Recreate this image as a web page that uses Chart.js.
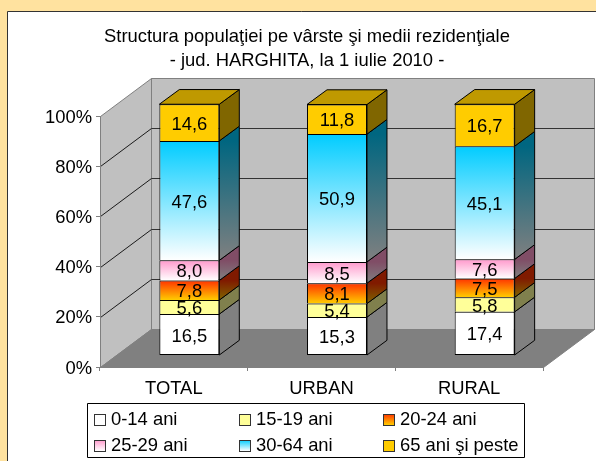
<!DOCTYPE html>
<html><head><meta charset="utf-8">
<style>html,body{margin:0;padding:0;background:#fff}#w{width:596px;height:461px;position:relative}</style>
<script src="https://cdn.jsdelivr.net/npm/chart.js@4"></script>
</head><body><div id="w"><canvas id="c" width="596" height="461"></canvas></div>
<script>
const categories = ["TOTAL", "URBAN", "RURAL"];
const seriesNames = ["0-14 ani", "15-19 ani", "20-24 ani", "25-29 ani", "30-64 ani", "65 ani şi peste"];
const age0to14 = [16.5, 15.3, 17.4];
const age15to19 = [5.6, 5.4, 5.8];
const age20to24 = [7.8, 8.1, 7.5];
const age25to29 = [8.0, 8.5, 7.6];
const age30to64 = [47.6, 50.9, 45.1];
const age65plus = [14.6, 11.8, 16.7];
const titleLines = ["Structura populaţiei pe vârste şi medii rezidenţiale", "- jud. HARGHITA, la 1 iulie 2010 -"];
const seriesValues = [age0to14, age15to19, age20to24, age25to29, age30to64, age65plus];

// top colour, bottom colour of every segment's gradient
const fills = [["#FFFFFF","#FFFFFF"],["#FFFF99","#FFFF99"],["#FF3300","#FFCC00"],["#FF99CC","#FFFFFF"],["#00CCFF","#FFFFFF"],["#FFCC00","#FFCC00"]];
const FONT = "'Liberation Sans', Arial, sans-serif";
const TEXT = 18.4;
const WALL = {dx:51, dy:-38}, OFFSET = {dx:15.5, dy:-11.5}, DEPTH = {dx:20, dy:-14.7};
Chart.defaults.font.family = FONT;
Chart.defaults.color = "#000";

function shade(hex, k){
  const n = parseInt(hex.slice(1),16);
  return "rgb("+[(n>>16)&255,(n>>8)&255,n&255].map(v=>Math.round(v*k)).join(",")+")";
}
function segmentFill(ctx){
  const chart = ctx.chart, y = chart.scales.y;
  const f = fills[ctx.datasetIndex];
  if(!y || f[0]===f[1] || ctx.dataIndex===undefined) return f[0];
  let low = 0;
  for(let i=0;i<ctx.datasetIndex;i++) low += seriesValues[i][ctx.dataIndex];
  const y0 = y.getPixelForValue(low+seriesValues[ctx.datasetIndex][ctx.dataIndex]), y1 = y.getPixelForValue(low);
  if(!Number.isFinite(y0) || !Number.isFinite(y1)) return f[0];
  const g = chart.ctx.createLinearGradient(0, y0, 0, y1);
  g.addColorStop(0,f[0]); g.addColorStop(1,f[1]);
  return g;
}
const scene = {
  id:"scene",
  beforeDraw(chart){
    const c = chart.ctx, a = chart.chartArea, yS = chart.scales.y;
    chart.titleBlock.left = 71; // centre the title over the 3D scene rather than the canvas
    c.save();
    // cream frame and white page
    c.fillStyle="#FFE29F"; c.fillRect(0,0,chart.width,chart.height);
    c.fillStyle="#fff"; c.fillRect(8,12,chart.width,chart.height);
    c.strokeStyle="#333"; c.lineWidth=1;
    c.beginPath(); c.moveTo(7.5,chart.height); c.lineTo(7.5,11.5); c.lineTo(chart.width,11.5); c.stroke();
    const poly=(pts,fill,stroke)=>{c.beginPath();pts.forEach((p,i)=>i?c.lineTo(p[0],p[1]):c.moveTo(p[0],p[1]));c.closePath();c.fillStyle=fill;c.fill();c.strokeStyle=stroke;c.stroke();};
    const L=a.left+.5,R=a.right+.5,T=a.top+.5,B=a.bottom+.5,dx=WALL.dx,dy=WALL.dy;
    poly([[L+dx,T+dy],[R+dx,T+dy],[R+dx,B+dy],[L+dx,B+dy]],"#C0C0C0","#808080");
    poly([[L,T],[L+dx,T+dy],[L+dx,B+dy],[L,B]],"#C0C0C0","#808080");
    poly([[L,B],[R,B],[R+dx,B+dy],[L+dx,B+dy]],"#808080","#808080");
    // gridlines folding from the side wall onto the back wall
    yS.ticks.forEach(t=>{
      if(t.value===0||t.value===100) return;
      const p=Math.round(yS.getPixelForValue(t.value))+.5;
      c.strokeStyle="#1a1a1a";
      c.beginPath();c.moveTo(L,p);c.lineTo(L+dx,p+dy);c.stroke();
      c.strokeStyle="#333";
      c.beginPath();c.moveTo(L+dx,p+dy);c.lineTo(R+dx,p+dy);c.stroke();
    });
    c.restore();
  },
  beforeDatasetsDraw(chart){
    const c = chart.ctx, n = chart.data.datasets.length;
    c.save();
    c.translate(OFFSET.dx, OFFSET.dy);
    c.lineWidth=1; c.strokeStyle="#000"; c.lineJoin="round";
    chart.data.datasets.forEach((ds,di)=>{
      chart.getDatasetMeta(di).data.forEach(el=>{
        const r=el.x+el.width/2, l=el.x-el.width/2, t=el.y, b=el.base;
        const g=c.createLinearGradient(0,t,0,b);
        g.addColorStop(0,shade(fills[di][0],.5)); g.addColorStop(1,shade(fills[di][1],.5));
        c.beginPath();c.moveTo(r,b);c.lineTo(r+DEPTH.dx,b+DEPTH.dy);c.lineTo(r+DEPTH.dx,t+DEPTH.dy);c.lineTo(r,t);c.closePath();
        c.fillStyle=g;c.fill();c.stroke();
        if(di===n-1){
          c.beginPath();c.moveTo(l,t);c.lineTo(l+DEPTH.dx,t+DEPTH.dy);c.lineTo(r+DEPTH.dx,t+DEPTH.dy);c.lineTo(r,t);c.closePath();
          c.fillStyle=shade(fills[di][0],.75);c.fill();c.stroke();
        }
      });
    });
  },
  afterDatasetsDraw(chart){
    const c = chart.ctx;
    c.fillStyle="#000"; c.font=TEXT+"px "+FONT; c.textAlign="center"; c.textBaseline="middle";
    chart.data.datasets.forEach((ds,di)=>{
      chart.getDatasetMeta(di).data.forEach((el,i)=>{
        c.fillText(ds.data[i].toFixed(1).replace(".",","), el.x, (el.y+el.base)/2+2);
      });
    });
    c.restore();
  },
  afterDraw(chart){
    const c = chart.ctx;
    c.save();
    c.strokeStyle="#000";c.lineWidth=1;c.fillStyle="#fff";
    c.beginPath();c.rect(87.5,403.5,437,54);c.fill();c.stroke();
    const xs=[94,239,383], ys=[414,440];
    c.font=TEXT+"px "+FONT;c.textBaseline="middle";c.textAlign="left";
    seriesNames.forEach((name,i)=>{
      const x=xs[i%3], y=ys[Math.floor(i/3)];
      const g=c.createLinearGradient(0,y,0,y+11);
      g.addColorStop(0,fills[i][0]);g.addColorStop(1,fills[i][1]);
      c.fillStyle=g;c.fillRect(x+.5,y+.5,11,11);
      c.strokeStyle="#333";c.strokeRect(x+.5,y+.5,11,11);
      c.fillStyle="#000";c.fillText(name,x+17,y+6);
    });
    c.restore();
  }
};
new Chart(document.getElementById("c"),{
  type:"bar",
  data:{labels:categories,datasets:seriesNames.map((name,i)=>({
    label:name,data:seriesValues[i],
    backgroundColor:segmentFill,borderColor:"#000",
    borderWidth:{top:1,left:1,right:1,bottom:i===0?1:0},borderSkipped:false,
    clip:false,categoryPercentage:1,barPercentage:0.406
  }))},
  plugins:[scene],
  options:{
    responsive:false,animation:false,
    layout:{padding:{left:0,right:53,top:0,bottom:0}},
    plugins:{
      legend:{display:false},tooltip:{enabled:false},
      title:{display:true,text:titleLines,color:"#000",font:{size:TEXT,weight:"normal",family:FONT,lineHeight:"24px"},padding:{top:25,bottom:43}}
    },
    scales:{
      x:{stacked:true,afterFit(s){s.height=94;},
        border:{color:"#808080"},
        grid:{offset:true,drawOnChartArea:false,tickLength:4,tickColor:"#808080",color:"#808080"},
        ticks:{font:{size:TEXT},padding:7,maxRotation:0}},
      y:{stacked:true,min:0,max:100,afterFit(s){s.width=100;},
        border:{color:"#808080"},
        grid:{drawOnChartArea:false,tickLength:4,tickColor:"#808080",color:"#808080"},
        ticks:{stepSize:20,font:{size:TEXT},padding:4,labelOffset:1.5,callback:v=>v+"%"}}
    }
  }
});
</script></body></html>
